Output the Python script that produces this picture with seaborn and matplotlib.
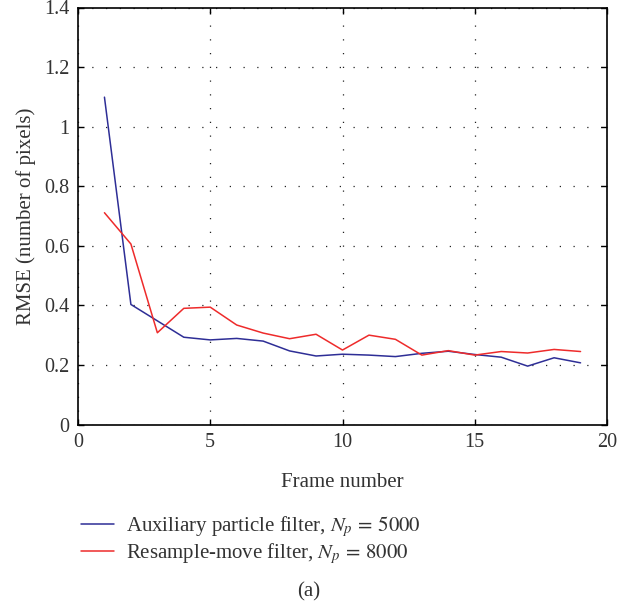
import numpy as np
import pandas as pd
import matplotlib
matplotlib.use("Agg")
import matplotlib.pyplot as plt
import seaborn as sns

# RMSE per frame for the two trackers
frames = list(range(1, 20))
apf_rmse = [1.099, 0.403, 0.348, 0.293, 0.284, 0.289, 0.280, 0.247, 0.230, 0.236,
            0.233, 0.228, 0.239, 0.246, 0.235, 0.226, 0.196, 0.224, 0.207]
rm_rmse = [0.711, 0.606, 0.308, 0.390, 0.394, 0.334, 0.307, 0.288, 0.303, 0.250,
           0.300, 0.286, 0.233, 0.248, 0.233, 0.245, 0.240, 0.252, 0.245]
series_labels = [r"Auxiliary particle filter, $N_p\,=\,5000$",
                 r"Resample-move filter, $N_p\,=\,8000$"]
series_colors = ["#2e2e96", "#ee2b2b"]

x_ticks = [0, 5, 10, 15, 20]
y_ticks = [0, 0.2, 0.4, 0.6, 0.8, 1.0, 1.2, 1.4]
y_tick_labels = ["0", "0.2", "0.4", "0.6", "0.8", "1", "1.2", "1.4"]

df = pd.DataFrame({
    "frame": frames * 2,
    "rmse": apf_rmse + rm_rmse,
    "method": [series_labels[0]] * len(frames) + [series_labels[1]] * len(frames),
})

sns.set_theme(style="ticks")
plt.rcParams["font.family"] = ["Liberation Serif", "DejaVu Serif"]
plt.rcParams["mathtext.fontset"] = "stix"

W, H = 619, 607
FS = 15
fig = plt.figure(figsize=(W / 100, H / 100), dpi=100)
ax = fig.add_axes([78 / W, 1 - 424.5 / H, (607 - 78) / W, (424.5 - 7.5) / H])

sns.lineplot(data=df, x="frame", y="rmse", hue="method",
             palette=dict(zip(series_labels, series_colors)),
             linewidth=1.1, ax=ax, legend=False)

ax.set_xlim(0, 20)
ax.set_ylim(0, 1.4)
ax.set_xticks(x_ticks)
ax.set_xticklabels([str(t) for t in x_ticks])
ax.set_yticks(y_ticks)
ax.set_yticklabels(y_tick_labels)
ax.tick_params(direction="in", length=4, width=1, top=True, right=True,
               labelsize=14.5, colors="black", labelcolor="#333333", pad=6)
ax.grid(True, linestyle=(0, (1, 10)), color="#222222", linewidth=0.9)
for sp in ax.spines.values():
    sp.set_visible(True)
    sp.set_color("black")
    sp.set_linewidth(1.2)

ax.set_xlabel("Frame number", fontsize=FS, color="#333333", labelpad=15)
ax.set_ylabel("RMSE (number of pixels)", fontsize=FS, color="#333333", labelpad=6)

handles = [plt.Line2D([], [], color=c, linewidth=1.1) for c in series_colors]
fig.legend(handles, series_labels, loc="upper left",
           bbox_to_anchor=(73 / W, 1 - 506 / H), frameon=False,
           fontsize=FS, handlelength=1.55, handletextpad=0.6,
           labelspacing=0.1, borderaxespad=0, labelcolor="#333333")

fig.text(309 / W, 1 - 592 / H, "(a)", ha="center", va="center",
         fontsize=FS, color="#333333")

fig.savefig("out.png", dpi=100)
